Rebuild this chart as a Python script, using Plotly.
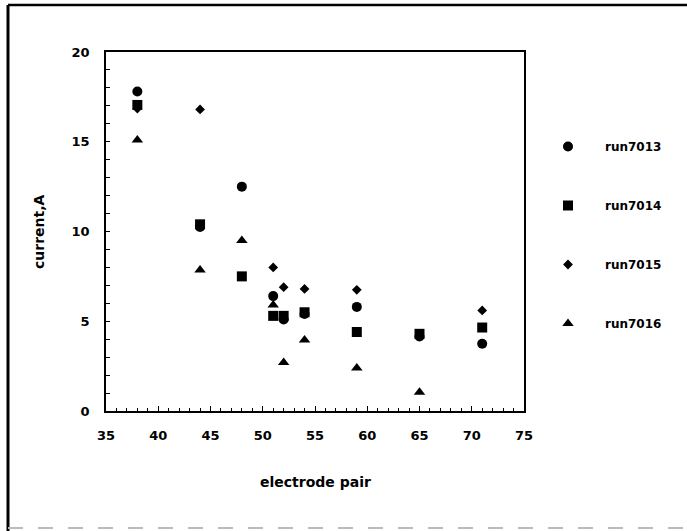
import plotly.graph_objects as go

# Data
run7013_x = [38, 44, 48, 51, 52, 54, 59, 65, 71]
run7013_y = [17.8, 10.25, 12.5, 6.4, 5.1, 5.4, 5.8, 4.15, 3.75]
run7014_x = [38, 44, 48, 51, 52, 54, 59, 65, 71]
run7014_y = [17.05, 10.4, 7.5, 5.3, 5.3, 5.5, 4.4, 4.3, 4.65]
run7015_x = [38, 44, 51, 52, 54, 59, 71]
run7015_y = [16.85, 16.8, 8.0, 6.9, 6.8, 6.75, 5.6]
run7016_x = [38, 44, 48, 51, 52, 54, 59, 65]
run7016_y = [15.1, 7.85, 9.5, 5.9, 2.7, 3.95, 2.4, 1.05]

series = [
    ("run7013", run7013_x, run7013_y, "circle", 10),
    ("run7014", run7014_x, run7014_y, "square", 10),
    ("run7015", run7015_x, run7015_y, "diamond", 7.5),
    ("run7016", run7016_x, run7016_y, "triangle-up", 10),
]

FONT = "DejaVu Sans, sans-serif"

fig = go.Figure()
for name, xs, ys, sym, sz in series:
    fig.add_trace(go.Scatter(
        x=xs, y=ys, mode="markers", name=name, legendgroup=name,
        marker=dict(symbol=sym, size=sz, color="black", line=dict(width=0)),
    ))

L, R, T, B = 106, 524, 52, 411
W, H = 687, 531

def px_x(p):
    return (p - L) / (R - L)

def px_y(p):
    return (B - p) / (B - T)

fig.update_layout(
    width=W, height=H,
    margin=dict(l=L, r=W - R, t=T, b=H - B),
    paper_bgcolor="white", plot_bgcolor="white",
    font=dict(family=FONT, color="black"),
    showlegend=True,
    legend=dict(
        x=px_x(531), y=px_y(132), xanchor="left", yanchor="top",
        font=dict(family=FONT, size=12, weight="bold"),
        tracegroupgap=40, itemwidth=64, bgcolor="rgba(0,0,0,0)",
    ),
    xaxis=dict(
        range=[35, 75], tickmode="linear", tick0=35, dtick=5,
        ticks="inside", ticklen=5, tickwidth=1, tickcolor="black",
        minor=dict(dtick=1, ticks="inside", ticklen=3, tickcolor="black"),
        showgrid=False, zeroline=False,
        showline=True, linecolor="black", linewidth=1.5, mirror=True,
        tickfont=dict(family=FONT, size=13, weight="bold"),
        ticklabelstandoff=12,
    ),
    yaxis=dict(
        range=[0, 20], tickmode="linear", tick0=0, dtick=5,
        ticks="inside", ticklen=4, tickwidth=1, tickcolor="black",
        minor=dict(dtick=1, ticks="inside", ticklen=4, tickcolor="black"),
        showgrid=False, zeroline=False,
        showline=True, linecolor="black", linewidth=1.5, mirror=True,
        tickfont=dict(family=FONT, size=13, weight="bold"),
        ticklabelstandoff=12,
    ),
    annotations=[
        dict(text="electrode pair", xref="paper", yref="paper",
             x=px_x(315), y=px_y(482), xanchor="center", yanchor="middle",
             showarrow=False, font=dict(family=FONT, size=14, weight="bold")),
        dict(text="current,A", xref="paper", yref="paper",
             x=px_x(39), y=px_y(232), xanchor="center", yanchor="middle",
             textangle=-90, showarrow=False,
             font=dict(family=FONT, size=14, weight="bold")),
    ],
    shapes=[
        dict(type="line", xref="paper", yref="paper",
             x0=px_x(8), x1=px_x(8), y0=px_y(5), y1=px_y(531),
             line=dict(color="black", width=3)),
        dict(type="line", xref="paper", yref="paper",
             x0=px_x(8), x1=px_x(687), y0=px_y(5), y1=px_y(5),
             line=dict(color="black", width=2.5)),
        dict(type="line", xref="paper", yref="paper",
             x0=px_x(8), x1=px_x(687), y0=px_y(528), y1=px_y(528),
             line=dict(color="#bbbbbb", width=2, dash="longdash")),
    ],
)

fig.write_html("out.html")
